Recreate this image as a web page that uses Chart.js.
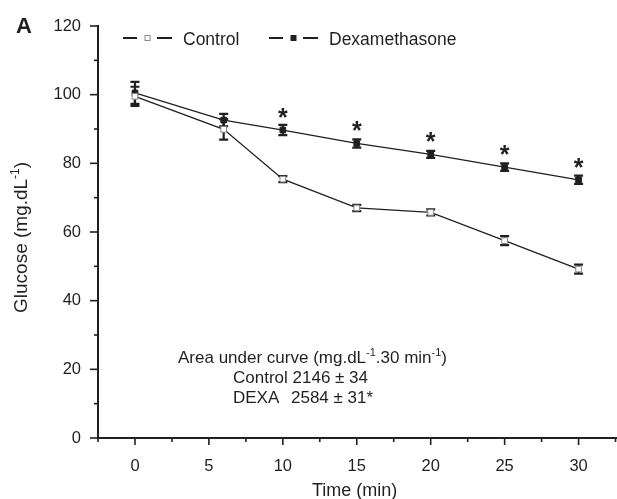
<!DOCTYPE html>
<html lang="en">
<head>
    <meta charset="UTF-8">
    <title>Glucose - Control vs Dexamethasone</title>
    <script src="https://cdn.jsdelivr.net/npm/chart.js"></script>
    <style>
        html, body { margin: 0; padding: 0; background: #fff; }
        canvas { display: block; }
    </style>
</head>
<body>
    <canvas id="glucoseChart" width="617" height="499"></canvas>

    <script>
        // values
        const times = [0, 6, 10, 15, 20, 25, 30];
        const controlMean = [99.5, 89.9, 75.4, 67.0, 65.7, 57.5, 49.2];
        const controlSem = [2.8, 3.0, 0.9, 0.9, 0.9, 1.3, 1.3];
        const dexaMean = [100.5, 92.6, 89.7, 85.8, 82.6, 78.9, 75.2];
        const dexaSem = [3.2, 1.8, 1.5, 1.2, 1.0, 1.1, 1.2];
        const dexaStar = [false, false, true, true, true, true, true];
        const xTickLabels = [0, 5, 10, 15, 20, 25, 30];
        const yTickLabels = [0, 20, 40, 60, 80, 100, 120];

        const ink = '#231f20';
        const font = '"Liberation Sans", Arial, Helvetica, sans-serif';

        const toPoints = (means) => times.map((t, i) => ({ x: t, y: means[i] }));

        // error bars under the markers
        const drawErrorBars = (chart, means, sems) => {
            const ctx = chart.ctx;
            const xs = chart.scales.x;
            const ys = chart.scales.y;
            ctx.save();
            ctx.strokeStyle = ink;
            ctx.lineWidth = 2.2;
            means.forEach((m, i) => {
                const px = xs.getPixelForValue(times[i]);
                const top = ys.getPixelForValue(m + sems[i]);
                const bot = ys.getPixelForValue(m - sems[i]);
                ctx.beginPath();
                ctx.moveTo(px, top);
                ctx.lineTo(px, bot);
                ctx.moveTo(px - 4.5, top);
                ctx.lineTo(px + 4.5, top);
                ctx.moveTo(px - 4.5, bot);
                ctx.lineTo(px + 4.5, bot);
                ctx.stroke();
            });
            ctx.restore();
        };

        // text with -1 superscripts, parts = [[text, isSup], ...]
        const drawRich = (ctx, parts, x, y, size) => {
            let cx = x;
            parts.forEach(([txt, sup]) => {
                ctx.font = (sup ? Math.round(size * 0.62) : size) + 'px ' + font;
                ctx.fillText(txt, cx, sup ? y - size * 0.42 : y);
                cx += ctx.measureText(txt).width;
            });
        };

        const decorPlugin = {
            id: 'decor',
            beforeDatasetsDraw(chart) {
                drawErrorBars(chart, controlMean, controlSem);
                drawErrorBars(chart, dexaMean, dexaSem);
            },
            afterDraw(chart) {
                const ctx = chart.ctx;
                const xs = chart.scales.x;
                const ys = chart.scales.y;
                const area = chart.chartArea;
                ctx.save();
                ctx.strokeStyle = ink;
                ctx.fillStyle = ink;
                ctx.lineWidth = 1.6;

                // tick marks, long on labelled values
                xs.ticks.forEach(t => {
                    const px = xs.getPixelForValue(t.value);
                    const len = xTickLabels.includes(t.value) ? 7 : 4;
                    ctx.beginPath();
                    ctx.moveTo(px, area.bottom);
                    ctx.lineTo(px, area.bottom + len);
                    ctx.stroke();
                });
                ys.ticks.forEach(t => {
                    const py = ys.getPixelForValue(t.value);
                    const len = yTickLabels.includes(t.value) ? 8 : 4;
                    ctx.beginPath();
                    ctx.moveTo(area.left, py);
                    ctx.lineTo(area.left - len, py);
                    ctx.stroke();
                });

                // significance stars
                ctx.font = 'bold 25px ' + font;
                ctx.textAlign = 'center';
                ctx.textBaseline = 'alphabetic';
                dexaMean.forEach((m, i) => {
                    if (!dexaStar[i]) return;
                    const px = xs.getPixelForValue(times[i]);
                    const py = ys.getPixelForValue(m);
                    ctx.fillText('*', px, py - 4);
                });

                // legend: dash - marker - dash  label
                const legendY = 38;
                const entries = [
                    { x: 123, label: 'Control', fill: '#fff', border: '#888' },
                    { x: 269, label: 'Dexamethasone', fill: ink, border: ink }
                ];
                ctx.textAlign = 'left';
                ctx.font = '17.5px ' + font;
                entries.forEach(e => {
                    ctx.lineWidth = 1.8;
                    ctx.strokeStyle = ink;
                    ctx.beginPath();
                    ctx.moveTo(e.x, legendY);
                    ctx.lineTo(e.x + 14, legendY);
                    ctx.moveTo(e.x + 34, legendY);
                    ctx.lineTo(e.x + 49, legendY);
                    ctx.stroke();
                    ctx.fillStyle = e.fill;
                    ctx.strokeStyle = e.border;
                    ctx.lineWidth = 1;
                    ctx.fillRect(e.x + 22, legendY - 2.5, 5, 5);
                    ctx.strokeRect(e.x + 22, legendY - 2.5, 5, 5);
                    ctx.fillStyle = ink;
                    ctx.fillText(e.label, e.x + 60, legendY + 7);
                });

                // panel letter
                ctx.font = 'bold 22px ' + font;
                ctx.fillText('A', 16, 33);

                // axis titles
                ctx.font = '18px ' + font;
                ctx.fillText('Time (min)', 312, 496);
                ctx.save();
                ctx.translate(27, 313);
                ctx.rotate(-Math.PI / 2);
                drawRich(ctx, [['Glucose (mg.dL', false], ['-1', true], [')', false]], 0, 0, 19);
                ctx.restore();

                // area under curve box
                drawRich(ctx, [['Area under curve (mg.dL', false], ['-1', true], ['.30 min', false], ['-1', true], [')', false]], 178, 363, 17);
                ctx.font = '17px ' + font;
                ctx.fillText('Control 2146 \u00b1 34', 233, 383);
                ctx.fillText('DEXA', 233, 403);
                ctx.fillText('2584 \u00b1 31*', 291, 403);

                ctx.restore();
            }
        };

        const ctx = document.getElementById('glucoseChart').getContext('2d');
        const glucoseChart = new Chart(ctx, {
            type: 'line',
            data: {
                datasets: [
                    {
                        label: 'Control',
                        data: toPoints(controlMean),
                        borderColor: ink,
                        borderWidth: 1.3,
                        pointStyle: 'rect',
                        pointRadius: 4,
                        pointBackgroundColor: '#fff',
                        pointBorderColor: '#888',
                        pointBorderWidth: 1,
                        fill: false
                    },
                    {
                        label: 'Dexamethasone',
                        data: toPoints(dexaMean),
                        borderColor: ink,
                        borderWidth: 1.3,
                        pointStyle: 'rect',
                        pointRadius: 4,
                        pointBackgroundColor: ink,
                        pointBorderColor: ink,
                        pointBorderWidth: 1,
                        fill: false
                    }
                ]
            },
            options: {
                responsive: false,
                animation: false,
                layout: {
                    autoPadding: false,
                    padding: { top: 26, left: 0, right: 0, bottom: 0 }
                },
                plugins: {
                    legend: { display: false },
                    tooltip: { enabled: false }
                },
                scales: {
                    x: {
                        type: 'linear',
                        min: -2.5,
                        max: 32.6,
                        afterBuildTicks: (scale) => {
                            const ticks = [];
                            for (let v = -2.5; v <= 32.5; v += 2.5) ticks.push({ value: v });
                            scale.ticks = ticks;
                        },
                        afterFit: (scale) => {
                            scale.height = 61;
                            scale.paddingLeft = 0;
                            scale.paddingRight = 0;
                        },
                        ticks: {
                            autoSkip: false,
                            maxRotation: 0,
                            padding: 11,
                            color: ink,
                            font: { family: font, size: 16.5 },
                            callback: (v) => xTickLabels.includes(v) ? String(v) : ''
                        },
                        grid: { display: false, drawTicks: true, tickLength: 8 },
                        border: { display: true, color: ink, width: 2 }
                    },
                    y: {
                        min: 0,
                        max: 120,
                        afterBuildTicks: (scale) => {
                            const ticks = [];
                            for (let v = 0; v <= 120; v += 10) ticks.push({ value: v });
                            scale.ticks = ticks;
                        },
                        afterFit: (scale) => {
                            scale.width = 98;
                            scale.paddingTop = 0;
                            scale.paddingBottom = 0;
                        },
                        ticks: {
                            autoSkip: false,
                            padding: 9,
                            color: ink,
                            font: { family: font, size: 16.5 },
                            callback: (v) => yTickLabels.includes(v) ? String(v) : ''
                        },
                        grid: { display: false, drawTicks: true, tickLength: 8 },
                        border: { display: true, color: ink, width: 2 }
                    }
                }
            },
            plugins: [decorPlugin]
        });
    </script>
</body>
</html>
